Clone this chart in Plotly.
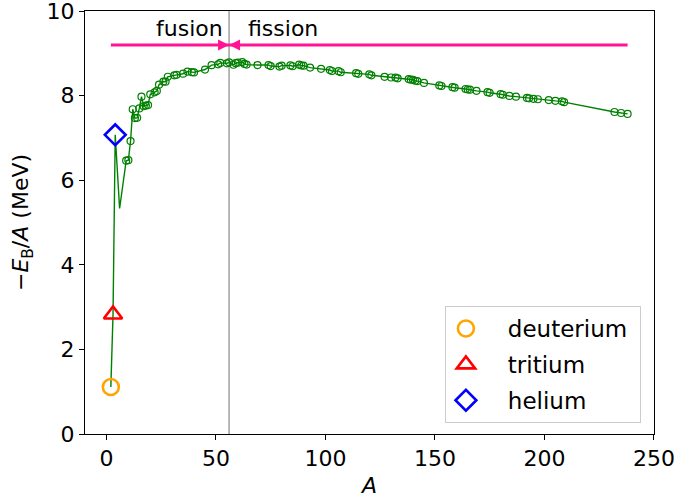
import plotly.graph_objects as go

# Binding energy per nucleon (MeV) along the chart of nuclides, ordered by mass number A
mass_number = [
    2, 3, 4, 6, 9, 10, 11, 12, 13, 14, 15, 16, 17, 18, 19, 20, 22, 23, 24, 26,
    27, 28, 31, 32, 35, 37, 39, 40, 45, 48, 51, 52, 55, 56, 58, 59, 60, 62, 63,
    64, 69, 74, 75, 79, 80, 84, 85, 88, 89, 90, 93, 98, 102, 103, 106, 107, 114,
    115, 120, 121, 127, 130, 132, 133, 138, 139, 140, 141, 142, 145, 152, 153,
    158, 159, 164, 165, 166, 169, 174, 175, 180, 181, 184, 187, 192, 193, 195,
    197, 202, 205, 208, 209, 232, 235, 238,
]
binding_per_nucleon = [
    1.112, 2.827, 7.074, 5.332, 6.463, 6.475, 6.928, 7.680, 7.470, 7.476, 7.699,
    7.976, 7.751, 7.767, 7.779, 8.032, 8.080, 8.112, 8.261, 8.334, 8.332, 8.448,
    8.481, 8.493, 8.520, 8.570, 8.557, 8.551, 8.619, 8.723, 8.742, 8.776, 8.765,
    8.790, 8.732, 8.768, 8.781, 8.795, 8.752, 8.736, 8.725, 8.725, 8.701, 8.688,
    8.711, 8.717, 8.697, 8.733, 8.714, 8.710, 8.664, 8.635, 8.607, 8.584, 8.580,
    8.554, 8.532, 8.517, 8.505, 8.482, 8.446, 8.430, 8.428, 8.410, 8.394, 8.378,
    8.376, 8.354, 8.346, 8.303, 8.244, 8.229, 8.202, 8.189, 8.159, 8.147, 8.142,
    8.115, 8.084, 8.069, 8.035, 8.023, 7.994, 7.978, 7.948, 7.938, 7.927, 7.916,
    7.897, 7.878, 7.868, 7.848, 7.615, 7.591, 7.570,
]

# Hydrogen and helium nuclei highlighted separately
light_names = ["deuterium", "tritium", "helium"]
light_mass = [2, 3, 4]
light_binding = [1.112, 2.827, 7.074]
light_colors = ["orange", "red", "blue"]
light_symbols = ["circle-open", "triangle-up-open", "diamond-open"]

iron_peak = 56          # most tightly bound region
arrow_level = 9.2
arrow_left, arrow_right = 2, 238

FONT = "DejaVu Sans, Verdana, sans-serif"
TEXT = "#000000"
PINK = "#ff1493"
PAD = "\u00a0\u00a0\u00a0"   # gap between legend symbol and label

fig = go.Figure()

# full curve as a line
fig.add_trace(go.Scatter(
    x=mass_number, y=binding_per_nucleon, mode="lines",
    line=dict(color="green", width=1.4), showlegend=False, hoverinfo="skip",
))
# small open circles from beryllium upwards
fig.add_trace(go.Scatter(
    x=mass_number[4:], y=binding_per_nucleon[4:], mode="markers",
    marker=dict(symbol="circle-open", size=7, color="green",
                line=dict(color="green", width=1.2)),
    showlegend=False,
))

for name, a, b, c, s in zip(light_names, light_mass, light_binding,
                            light_colors, light_symbols):
    fig.add_trace(go.Scatter(
        x=[a], y=[b], mode="markers", name=PAD + name + "\u00a0", legendgroup=name,
        marker=dict(symbol=s, size=16, color=c, line=dict(color=c, width=2.6)),
    ))

# boundary between fusion and fission
fig.add_shape(type="line", xref="x", yref="paper", x0=iron_peak, x1=iron_peak,
              y0=0, y1=1, line=dict(color="#a0a0a0", width=1.5), layer="below")

# arrows pointing towards the iron peak from both sides
for start, sign in ((arrow_left, 1), (arrow_right, -1)):
    fig.add_shape(type="line", xref="x", yref="y", x0=start, x1=iron_peak,
                  y0=arrow_level, y1=arrow_level,
                  line=dict(color=PINK, width=3))
    fig.add_shape(type="path", xref="x", yref="y",
                  xsizemode="pixel", ysizemode="pixel",
                  xanchor=iron_peak, yanchor=arrow_level,
                  path=f"M0,0 L{-11 * sign},5.5 L{-11 * sign},-5.5 Z",
                  fillcolor=PINK, line=dict(color=PINK, width=0))

fig.add_annotation(x=iron_peak, y=9.6, xref="x", yref="y", text="fusion",
                   showarrow=False, xanchor="right", yanchor="middle", xshift=-4,
                   font=dict(family=FONT, size=22, color=TEXT))
fig.add_annotation(x=iron_peak, y=9.6, xref="x", yref="y", text="fission",
                   showarrow=False, xanchor="left", yanchor="middle", xshift=17,
                   font=dict(family=FONT, size=22, color=TEXT))

axis_common = dict(
    showgrid=False, zeroline=False, showline=True, linecolor="black",
    linewidth=1.1, mirror=True, ticks="outside", ticklen=5, tickwidth=1.1,
    tickcolor="black", tickfont=dict(family=FONT, size=22, color=TEXT),
    automargin=False, ticklabeloverflow="allow",
)

fig.update_xaxes(range=[-9.8, 250.05], tickvals=[0, 50, 100, 150, 200, 250],
                 title=dict(text="<i>A</i>", font=dict(family=FONT, size=22, color=TEXT),
                            standoff=7),
                 **axis_common)
fig.update_yaxes(range=[0, 10.003], tickvals=[0, 2, 4, 6, 8, 10],
                 title=dict(text="−<i>E</i><sub>B</sub>/<i>A</i> (MeV)",
                            font=dict(family=FONT, size=22, color=TEXT), standoff=11),
                 **axis_common)

fig.update_layout(
    width=675, height=499,
    margin=dict(l=85, r=21, t=11, b=65),
    plot_bgcolor="white", paper_bgcolor="white",
    font=dict(family=FONT, size=22, color=TEXT),
    legend=dict(x=0.977, y=0.026, xanchor="right", yanchor="bottom",
                bgcolor="rgba(255,255,255,0.8)", bordercolor="#cccccc",
                borderwidth=1, itemwidth=30, tracegroupgap=3,
                font=dict(family=FONT, size=23, color=TEXT)),
)

fig.write_html("out.html")
